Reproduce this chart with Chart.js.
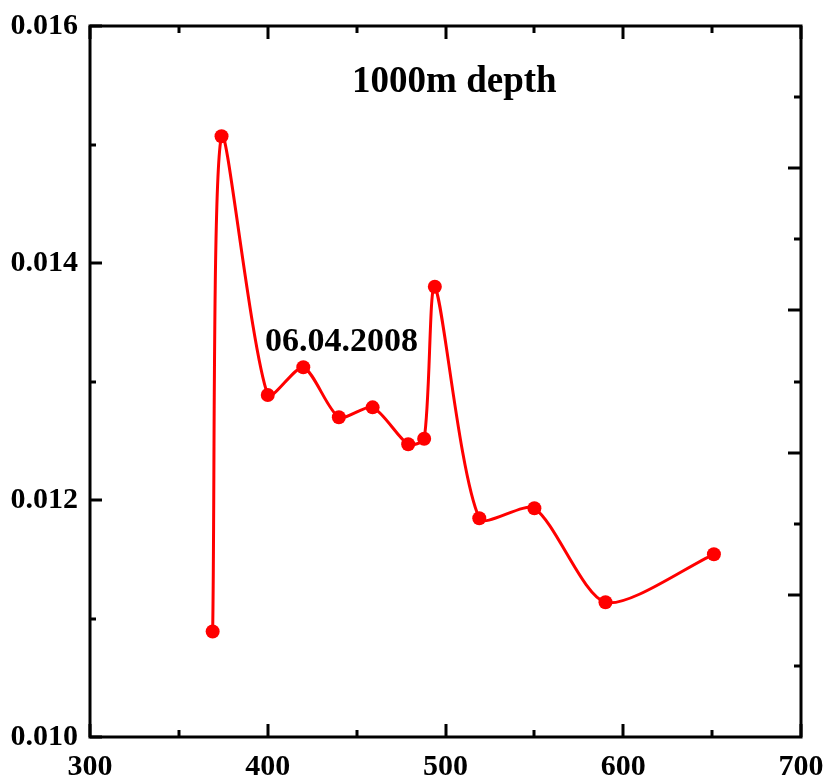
<!DOCTYPE html>
<html>
<head>
<meta charset="utf-8">
<script src="https://cdn.jsdelivr.net/npm/chart.js@4/dist/chart.umd.min.js"></script>
<style>
html, body { margin: 0; padding: 0; background: #fff; }
</style>
</head>
<body>
<canvas id="chart" width="827" height="778"></canvas>
<script>
// data
const wavelength = [369, 374, 400, 420, 440, 459, 479, 488, 494, 519, 550, 590, 651];
const value = [0.01089, 0.01507, 0.012886, 0.01312, 0.012698, 0.012782, 0.01247, 0.012517, 0.0138, 0.011846, 0.01193, 0.011137, 0.011542];

// axes
const xTickLabels = [300, 400, 500, 600, 700];
const xMinorTicks = [350, 450, 550, 650];
const yTickLabels = [0.010, 0.012, 0.014, 0.016];
const yMinorTicks = [0.011, 0.013, 0.015];
const rightMajorTicks = [0.0112, 0.0124, 0.0136, 0.0148];
const rightMinorTicks = [0.0106, 0.0118, 0.0130, 0.0142, 0.0154];

const titleText = '1000m depth';
const dateText = '06.04.2008';

const serif = '"Liberation Serif", "Times New Roman", serif';

// frame, inward ticks and the two text labels
const framePlugin = {
    id: 'frame',
    afterDraw(chart) {
        const ctx = chart.ctx;
        const a = chart.chartArea;
        const xs = chart.scales.x;
        const ys = chart.scales.y;
        ctx.save();
        ctx.strokeStyle = '#000';
        ctx.lineWidth = 3;
        ctx.lineCap = 'butt';

        function tick(x1, y1, x2, y2) {
            ctx.beginPath();
            ctx.moveTo(x1, y1);
            ctx.lineTo(x2, y2);
            ctx.stroke();
        }

        xTickLabels.forEach(v => {
            const px = Math.round(xs.getPixelForValue(v));
            tick(px, a.bottom, px, a.bottom - 13);
            tick(px, a.top, px, a.top + 13);
        });
        xMinorTicks.forEach(v => {
            const px = Math.round(xs.getPixelForValue(v));
            tick(px, a.bottom, px, a.bottom - 7);
            tick(px, a.top, px, a.top + 7);
        });
        yTickLabels.forEach(v => {
            const py = Math.round(ys.getPixelForValue(v));
            tick(a.left, py, a.left + 12, py);
        });
        yMinorTicks.forEach(v => {
            const py = Math.round(ys.getPixelForValue(v));
            tick(a.left, py, a.left + 6, py);
        });
        rightMajorTicks.forEach(v => {
            const py = Math.round(ys.getPixelForValue(v));
            tick(a.right, py, a.right - 13, py);
        });
        rightMinorTicks.forEach(v => {
            const py = Math.round(ys.getPixelForValue(v));
            tick(a.right, py, a.right - 7, py);
        });

        ctx.strokeRect(a.left, a.top, a.right - a.left, a.bottom - a.top);

        ctx.fillStyle = '#000';
        ctx.textAlign = 'center';
        ctx.textBaseline = 'middle';
        ctx.font = 'bold 37px ' + serif;
        ctx.fillText(titleText, xs.getPixelForValue(505), ys.getPixelForValue(0.01552));
        ctx.font = 'bold 34px ' + serif;
        ctx.fillText(dateText, xs.getPixelForValue(441.5), ys.getPixelForValue(0.013333));
        ctx.restore();
    }
};

function noPad(s) {
    s.paddingLeft = 0;
    s.paddingRight = 0;
    s.paddingTop = 0;
    s.paddingBottom = 0;
}

const ctx = document.getElementById('chart').getContext('2d');
new Chart(ctx, {
    type: 'line',
    data: {
        datasets: [{
            data: wavelength.map((w, i) => ({ x: w, y: value[i] })),
            borderColor: '#ff0000',
            backgroundColor: '#ff0000',
            borderWidth: 3,
            pointRadius: 7,
            pointBorderWidth: 0,
            tension: 0.25,
            fill: false
        }]
    },
    options: {
        responsive: false,
        animation: false,
        devicePixelRatio: 1,
        layout: { padding: { top: 26, right: 26, left: 0, bottom: 0 } },
        plugins: {
            legend: { display: false },
            tooltip: { enabled: false }
        },
        scales: {
            x: {
                type: 'linear',
                min: 300,
                max: 700,
                afterBuildTicks: s => { s.ticks = xTickLabels.map(v => ({ value: v })); },
                afterFit: s => { s.height = 41; noPad(s); },
                grid: { display: false, drawTicks: false },
                border: { display: false },
                ticks: {
                    padding: 12,
                    color: '#000',
                    font: { family: serif, size: 30, weight: 'bold' },
                    maxRotation: 0
                }
            },
            y: {
                type: 'linear',
                min: 0.010,
                max: 0.016,
                afterBuildTicks: s => { s.ticks = yTickLabels.map(v => ({ value: v })); },
                afterFit: s => { s.width = 90; noPad(s); },
                grid: { display: false, drawTicks: false },
                border: { display: false },
                ticks: {
                    padding: 12,
                    color: '#000',
                    font: { family: serif, size: 30, weight: 'bold' },
                    callback: v => v.toFixed(3)
                }
            }
        }
    },
    plugins: [framePlugin]
});
</script>
</body>
</html>
